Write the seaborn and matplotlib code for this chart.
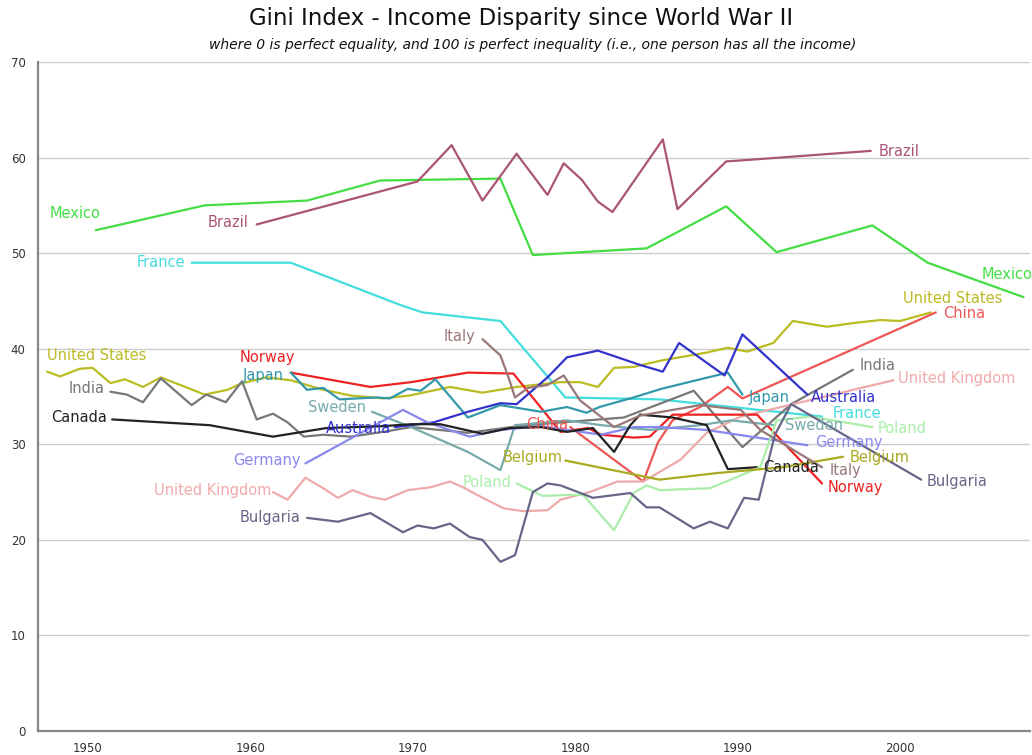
import pandas as pd
import matplotlib
matplotlib.use('Agg')
import matplotlib.pyplot as plt
import seaborn as sns

# Gini values (year, gini)
mexico_years = [1950.5, 1957.2, 1963.5, 1968.0, 1975.4, 1977.4, 1984.4, 1989.3, 1992.4, 1998.3, 2001.7, 2007.6]
mexico_gini = [52.4, 55.0, 55.5, 57.6, 57.8, 49.8, 50.5, 54.9, 50.1, 52.9, 49.0, 45.4]

brazil_years = [1960.4, 1970.3, 1972.4, 1974.3, 1976.4, 1978.3, 1979.3, 1980.4, 1981.4, 1982.3,
                1985.4, 1986.3, 1989.3, 1990.2, 1998.2]
brazil_gini = [53.0, 57.5, 61.3, 55.5, 60.4, 56.1, 59.4, 57.7, 55.4, 54.3, 61.9, 54.6, 59.6, 59.7, 60.7]

france_years = [1956.4, 1962.5, 1969.2, 1970.6, 1975.4, 1979.4, 1985.2, 1995.2]
france_gini = [49.0, 49.0, 44.6, 43.8, 42.9, 34.9, 34.7, 32.9]

us_years = [1947.5, 1948.3, 1949.5, 1950.3, 1951.4, 1952.3, 1953.4, 1954.5, 1955.7, 1957.2, 1958.6,
            1959.5, 1961.0, 1962.5, 1964.5, 1966.2, 1968.2, 1969.8, 1972.3, 1974.3, 1976.4, 1978.0,
            1979.1, 1980.3, 1981.4, 1982.4, 1983.6, 1985.4, 1986.1, 1988.1, 1989.4, 1990.6, 1992.2,
            1993.4, 1995.5, 1997.2, 1998.8, 2000.0, 2001.9]
us_gini = [37.6, 37.1, 37.9, 38.0, 36.4, 36.8, 36.0, 37.0, 36.2, 35.2, 35.7, 36.4, 37.0, 36.7, 35.7,
           35.1, 34.8, 35.1, 36.0, 35.4, 36.0, 36.3, 36.5, 36.5, 36.0, 38.0, 38.1, 38.8, 39.0, 39.6,
           40.1, 39.7, 40.6, 42.9, 42.3, 42.7, 43.0, 42.9, 43.8]

china_years = [1979.7, 1984.2, 1985.1, 1986.0, 1987.7, 1989.4, 1990.3, 2002.2]
china_gini = [31.8, 26.1, 30.2, 32.5, 33.9, 36.0, 34.8, 43.8]

india_years = [1951.4, 1952.4, 1953.4, 1954.5, 1956.4, 1957.3, 1958.5, 1959.5, 1960.4, 1961.4, 1962.3,
               1963.3, 1964.5, 1966.2, 1968.2, 1969.9, 1973.4, 1977.0, 1983.0, 1987.3, 1990.3, 1993.3,
               1997.1]
india_gini = [35.5, 35.2, 34.4, 36.9, 34.1, 35.2, 34.4, 36.6, 32.6, 33.2, 32.3, 30.8, 31.0, 30.8, 31.3,
              31.8, 31.2, 32.0, 32.8, 35.6, 29.7, 34.2, 37.8]

uk_years = [1961.4, 1962.3, 1963.4, 1964.5, 1965.4, 1966.3, 1967.4, 1968.3, 1969.7, 1971.1, 1972.3,
            1973.1, 1974.2, 1975.6, 1976.8, 1978.3, 1979.1, 1980.9, 1982.6, 1984.2, 1985.4, 1986.5,
            1988.1, 1990.2, 1999.6]
uk_gini = [25.0, 24.2, 26.5, 25.4, 24.4, 25.2, 24.5, 24.2, 25.2, 25.5, 26.1, 25.5, 24.5, 23.3, 23.0,
           23.1, 24.2, 25.0, 26.1, 26.1, 27.3, 28.4, 31.2, 32.9, 36.7]

norway_years = [1962.5, 1967.4, 1969.9, 1973.4, 1976.2, 1979.1, 1980.8, 1981.6, 1983.6, 1984.6,
                1986.0, 1991.2, 1995.2]
norway_gini = [37.5, 36.0, 36.5, 37.5, 37.4, 31.3, 31.7, 31.0, 30.7, 30.8, 33.1, 33.1, 25.9]

japan_years = [1962.5, 1963.5, 1964.5, 1965.5, 1966.6, 1967.8, 1968.6, 1969.7, 1970.5, 1971.4, 1973.4,
               1975.4, 1977.9, 1979.5, 1980.7, 1981.5, 1983.6, 1985.3, 1989.4, 1990.3]
japan_gini = [37.5, 35.7, 35.9, 34.7, 34.8, 34.9, 34.8, 35.8, 35.6, 36.8, 32.8, 34.1, 33.4, 33.9, 33.3,
              33.9, 34.9, 35.8, 37.5, 35.2]

sweden_years = [1967.5, 1969.9, 1973.4, 1975.4, 1976.3, 1979.5, 1981.6, 1984.6, 1987.7, 1989.6, 1992.3]
sweden_gini = [33.4, 31.8, 29.2, 27.3, 32.0, 32.5, 32.0, 31.5, 32.0, 32.5, 32.0]

australia_years = [1968.9, 1971.3, 1973.4, 1975.4, 1976.4, 1978.3, 1979.5, 1981.4, 1984.0, 1985.4,
                   1986.4, 1989.2, 1990.3, 1994.3]
australia_gini = [31.8, 32.3, 33.4, 34.3, 34.2, 37.0, 39.1, 39.8, 38.3, 37.6, 40.6, 37.2, 41.5, 35.2]

germany_years = [1963.4, 1969.4, 1970.9, 1973.5, 1975.4, 1977.9, 1981.6, 1983.6, 1985.2, 1988.1, 1994.3]
germany_gini = [28.0, 33.6, 32.3, 30.8, 31.5, 31.9, 31.0, 31.8, 31.8, 31.5, 29.9]

canada_years = [1951.5, 1957.5, 1961.4, 1964.7, 1968.2, 1969.9, 1971.7, 1974.3, 1976.0, 1977.9, 1979.5,
                1981.1, 1982.4, 1983.4, 1984.0, 1986.0, 1988.1, 1989.4, 1991.2]
canada_gini = [32.6, 32.0, 30.8, 31.7, 31.9, 32.1, 32.1, 31.1, 31.7, 31.8, 31.3, 31.7, 29.2, 32.0, 33.1,
               32.8, 32.0, 27.4, 27.6]

poland_years = [1976.4, 1978.0, 1979.5, 1980.5, 1982.4, 1983.6, 1984.4, 1985.2, 1988.3, 1991.4, 1992.4,
                1994.5, 1998.3]
poland_gini = [25.9, 24.6, 24.7, 24.7, 21.0, 24.9, 25.7, 25.2, 25.4, 27.6, 32.5, 32.9, 31.8]

belgium_years = [1979.4, 1985.2, 1988.8, 1992.8, 1996.5]
belgium_gini = [28.3, 26.3, 27.0, 27.6, 28.7]

italy_years = [1974.3, 1975.4, 1975.9, 1976.3, 1977.1, 1978.3, 1979.3, 1980.3, 1982.4, 1984.0, 1987.7,
               1990.2, 1991.4, 1995.2]
italy_gini = [41.0, 39.3, 37.0, 34.9, 35.9, 36.2, 37.2, 34.6, 31.8, 33.0, 34.1, 33.6, 31.5, 27.6]

bulgaria_years = [1963.5, 1965.4, 1967.4, 1969.4, 1970.3, 1971.3, 1972.3, 1973.5, 1974.3, 1975.4,
                  1976.3, 1977.4, 1978.3, 1979.1, 1981.1, 1983.4, 1984.4, 1985.2, 1987.3, 1988.3,
                  1989.4, 1990.4, 1991.3, 1992.3, 1993.3, 2001.3]
bulgaria_gini = [22.3, 21.9, 22.8, 20.8, 21.5, 21.2, 21.7, 20.3, 20.0, 17.7, 18.4, 25.0, 25.9, 25.7,
                 24.4, 24.9, 23.4, 23.4, 21.2, 21.9, 21.2, 24.4, 24.2, 31.0, 34.2, 26.3]

series = {
    'Mexico': (mexico_years, mexico_gini),
    'Brazil': (brazil_years, brazil_gini),
    'France': (france_years, france_gini),
    'United States': (us_years, us_gini),
    'China': (china_years, china_gini),
    'India': (india_years, india_gini),
    'United Kingdom': (uk_years, uk_gini),
    'Norway': (norway_years, norway_gini),
    'Japan': (japan_years, japan_gini),
    'Sweden': (sweden_years, sweden_gini),
    'Australia': (australia_years, australia_gini),
    'Germany': (germany_years, germany_gini),
    'Canada': (canada_years, canada_gini),
    'Poland': (poland_years, poland_gini),
    'Belgium': (belgium_years, belgium_gini),
    'Italy': (italy_years, italy_gini),
    'Bulgaria': (bulgaria_years, bulgaria_gini),
}

palette = {
    'Mexico': '#44dd44', 'Brazil': '#aa5577', 'France': '#44dddd', 'United States': '#bbbb22',
    'China': '#ee5555', 'India': '#777777', 'United Kingdom': '#eeaaaa', 'Norway': '#ee2222',
    'Japan': '#3399aa', 'Sweden': '#77aaaa', 'Australia': '#3333cc', 'Germany': '#8888ee',
    'Canada': '#222222', 'Poland': '#aaeeaa', 'Belgium': '#aaaa22', 'Italy': '#997777',
    'Bulgaria': '#666688',
}

# label offsets in pixels: (dx, dy, ha)
start_labels = {
    'Mexico': (5, 17, 'right'), 'Brazil': (-8, 2, 'right'), 'France': (-6, 0, 'right'),
    'United States': (0, 16, 'left'), 'China': (-2, 3, 'right'), 'India': (-6, 3, 'right'),
    'United Kingdom': (-2, 2, 'right'), 'Norway': (4, 15, 'right'), 'Japan': (-7, -3, 'right'),
    'Sweden': (-6, 4, 'right'), 'Australia': (-4, -1, 'right'), 'Germany': (-5, 3, 'right'),
    'Canada': (-5, 2, 'right'), 'Poland': (-5, 1, 'right'), 'Belgium': (-3, 3, 'right'),
    'Italy': (-7, 3, 'right'), 'Bulgaria': (-7, 0, 'right'),
}
end_labels = {
    'Mexico': (9, 23, 'right'), 'Brazil': (8, -1, 'left'), 'France': (11, 3, 'left'),
    'United States': (22, 14, 'center'), 'China': (7, -1, 'left'), 'India': (7, 4, 'left'),
    'United Kingdom': (4, 2, 'left'), 'Norway': (6, -4, 'left'), 'Japan': (6, -3, 'left'),
    'Sweden': (10, 0, 'left'), 'Australia': (3, -3, 'left'), 'Germany': (8, 3, 'left'),
    'Canada': (6, 0, 'left'), 'Poland': (5, -1, 'left'), 'Belgium': (6, -1, 'left'),
    'Italy': (8, -3, 'left'), 'Bulgaria': (5, -2, 'left'),
}

frames = []
for name, (yrs, vals) in series.items():
    frames.append(pd.DataFrame({'country': name, 'year': yrs, 'gini': vals}))
df = pd.concat(frames, ignore_index=True)

sns.set_style('white')
plt.rcParams['font.family'] = ['DejaVu Sans']

fig = plt.figure(figsize=(10.32, 7.55), dpi=100)
ax = fig.add_axes([38 / 1032, 24 / 755, 992 / 1032, 669 / 755])

sns.lineplot(data=df, x='year', y='gini', hue='country', palette=palette, estimator=None,
             sort=False, linewidth=1.6, legend=False, ax=ax)

for name, (yrs, vals) in series.items():
    dx, dy, ha = start_labels[name]
    ax.annotate(name, xy=(yrs[0], vals[0]), xytext=(dx, dy), textcoords='offset pixels',
                ha=ha, va='center', color=palette[name], fontsize=10.5)
    dx, dy, ha = end_labels[name]
    ax.annotate(name, xy=(yrs[-1], vals[-1]), xytext=(dx, dy), textcoords='offset pixels',
                ha=ha, va='center', color=palette[name], fontsize=10.5, annotation_clip=False)

ax.set_xlim(1946.94, 2008.0)
ax.set_ylim(0, 70)
ax.set_yticks(range(0, 71, 10))
ax.set_xticks(range(1950, 2001, 10))
ax.set_xticks(range(1947, 2009), minor=True)
ax.yaxis.grid(True, color='#cccccc', linewidth=1)
ax.xaxis.grid(False)
ax.set_xlabel('')
ax.set_ylabel('')

for side in ['top', 'right']:
    ax.spines[side].set_visible(False)
for side in ['left', 'bottom']:
    ax.spines[side].set_color('#888888')
    ax.spines[side].set_linewidth(1.6)

ax.tick_params(axis='x', which='major', direction='inout', length=12, width=1, color='#888888',
               labelsize=8.5, labelcolor='#333333', pad=2)
ax.tick_params(axis='x', which='minor', direction='out', length=4, width=0.8, color='#999999')
ax.tick_params(axis='y', which='major', direction='out', length=5, width=1, color='#888888',
               labelsize=8.5, labelcolor='#333333', pad=4)

fig.text(521 / 1032, 1 - 18 / 755, 'Gini Index - Income Disparity since World War II',
         ha='center', va='center', fontsize=16.5, color='#111111')
fig.text(533 / 1032, 1 - 45 / 755,
         'where 0 is perfect equality, and 100 is perfect inequality (i.e., one person has all the income)',
         ha='center', va='center', fontsize=10, style='italic', color='#111111')

fig.savefig('out.png', dpi=100)
